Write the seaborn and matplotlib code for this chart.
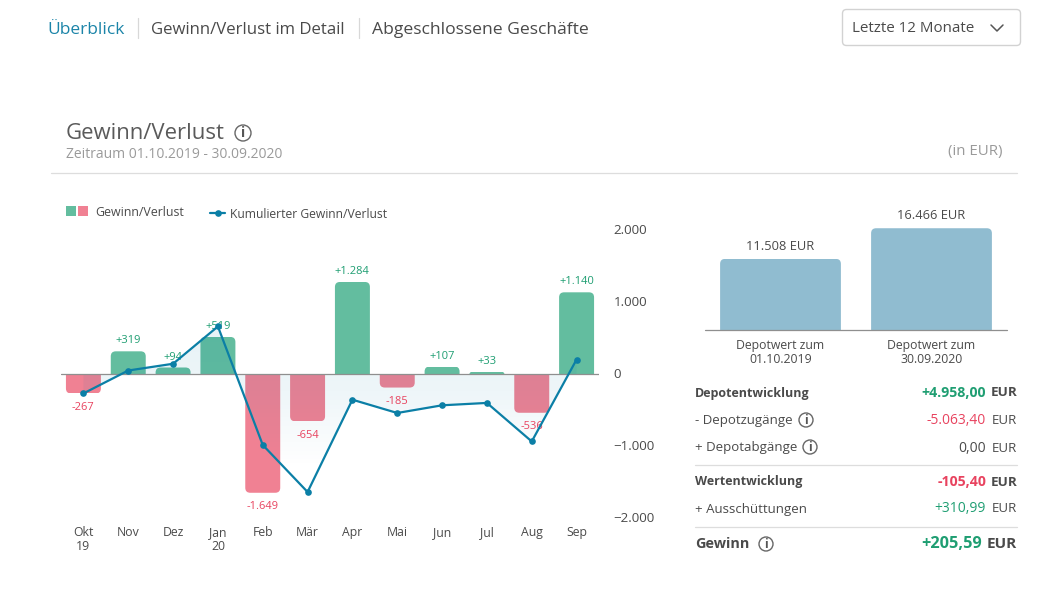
import numpy as np
import pandas as pd
import seaborn as sns
import matplotlib
matplotlib.use("Agg")
import matplotlib.pyplot as plt
from matplotlib.patches import FancyBboxPatch, Rectangle, Circle
from matplotlib.colors import LinearSegmentedColormap
from matplotlib.transforms import ScaledTranslation

months = ["Okt\n19", "Nov", "Dez", "Jan\n20", "Feb", "Mär", "Apr", "Mai", "Jun", "Jul", "Aug", "Sep"]
profit = [-267, 319, 94, 519, -1649, -654, 1284, -185, 107, 33, -536, 1140]
profit_labels = ["-267", "+319", "+94", "+519", "-1.649", "-654", "+1.284", "-185", "+107", "+33", "-536", "+1.140"]
cumulative = [-267, 52, 146, 665, -984, -1638, -354, -539, -432, -399, -935, 205]
y_ticks = [2000, 1000, 0, -1000, -2000]
y_tick_labels = ["2.000", "1.000", "0", "\u22121.000", "\u22122.000"]

depot_dates = ["Depotwert zum\n01.10.2019", "Depotwert zum\n30.09.2020"]
depot_values = [11508, 16466]
depot_labels = ["11.508 EUR", "16.466 EUR"]

GREEN = "#63bd9f"
RED = "#f08193"
BLUE = "#0b7fa6"
DEPOT = "#90bcd0"
TEXT = "#4a4a4a"
GREY = "#9a9a9a"
TXT_GREEN = "#1f9e72"
TXT_RED = "#e8435f"

W, H = 1047, 590

sns.set_style("white")
plt.rcParams["font.family"] = ["Open Sans", "DejaVu Sans"]


def px_axes(fig, left, top, right, bottom):
    return fig.add_axes([left / W, 1 - bottom / H, (right - left) / W, (bottom - top) / H])


fig = plt.figure(figsize=(W / 100, H / 100), dpi=100)

# main chart
ax = px_axes(fig, 61, 230.5, 599, 518)
df = pd.DataFrame({"month": months, "profit": profit})
df["sign"] = np.where(df["profit"] >= 0, "up", "down")
sns.barplot(data=df, x="month", y="profit", hue="sign", dodge=False, legend=False, width=0.78, saturation=1,
            palette={"up": GREEN, "down": RED}, ax=ax, zorder=2)
ax.set_xlim(-0.5, 11.5)
ax.set_ylim(-2000, 2000)

# swap the square bars for ones with rounded ends
px_x = 538 / 12
px_y = 287.5 / 4000
for p in list(ax.patches):
    x, y, w, h = p.get_x(), p.get_y(), p.get_width(), p.get_height()
    if abs(h) < 1:
        continue
    col = p.get_facecolor()
    p.remove()
    lo, hi = min(y, y + h), max(y, y + h)
    ext = 12 / px_y
    lo2 = lo - ext if lo == 0 else lo
    hi2 = hi + ext if hi == 0 else hi
    rad = min(5, abs(h) * px_y) / px_x
    bar = FancyBboxPatch((x, lo2), w, hi2 - lo2, boxstyle=f"round,pad=0,rounding_size={rad}",
                         mutation_aspect=px_x / px_y, fc=col, ec="none", zorder=2)
    ax.add_patch(bar)
    bar.set_clip_path(Rectangle((x - 1, lo), w + 2, hi - lo, transform=ax.transData))

# light gradient between the line and zero
x_pos = np.arange(len(months))
area = ax.fill_between(x_pos, cumulative, 0, color="none", zorder=3)
cmap = LinearSegmentedColormap.from_list("fade", [(0.04, 0.5, 0.65, 0.0), (0.04, 0.5, 0.65, 0.07), (0.04, 0.5, 0.65, 0.10)])
grad = np.linspace(1, 0, 256).reshape(-1, 1)
img = ax.imshow(grad, extent=(-0.5, 11.5, -1300, 800), aspect="auto", cmap=cmap, zorder=3)
img.set_clip_path(area.get_paths()[0], transform=ax.transData)
ax.set_xlim(-0.5, 11.5)
ax.set_ylim(-2000, 2000)

ax.axhline(0, color="#8f8f8f", lw=0.9, zorder=4)
sns.lineplot(x=x_pos, y=cumulative, color=BLUE, lw=1.6, marker="o", markersize=4.8, markeredgewidth=0,
             ax=ax, zorder=5, errorbar=None)

for i, (val, lab) in enumerate(zip(profit, profit_labels)):
    ax.annotate(lab, (i, val), xytext=(0, 3.5 if val > 0 else -6), textcoords="offset points", ha="center",
                va="bottom" if val > 0 else "top", fontsize=8.0,
                color=TXT_GREEN if val > 0 else TXT_RED, zorder=4)

ax.set_xlabel("")
ax.set_ylabel("")
ax.yaxis.tick_right()
ax.set_yticks(y_ticks)
ax.set_yticklabels(y_tick_labels, ha="left", color=TEXT, fontsize=9.6)
ax.set_xticks(x_pos)
ax.set_xticklabels(months, color=TEXT, fontsize=8.8, linespacing=1.05)
ax.tick_params(axis="x", length=0, pad=6)
ax.tick_params(axis="y", length=0, pad=10.5)
for lab in ax.get_yticklabels():
    lab.set_transform(lab.get_transform() + ScaledTranslation(0, 1.5 / 100, fig.dpi_scale_trans))
ax.patch.set_alpha(0)
sns.despine(ax=ax, left=True, bottom=True, right=True, top=True)

# depot value bars
ax2 = px_axes(fig, 705, 210, 1007, 330)
sns.barplot(x=depot_dates, y=depot_values, color=DEPOT, saturation=1, width=0.8, ax=ax2)
ax2.set_xlim(-0.5, 1.5)
ax2.set_ylim(0, 120 / 0.00618)
px2_x = 151
px2_y = 0.00618
for p in list(ax2.patches):
    x, w, h = p.get_x(), p.get_width(), p.get_height()
    p.remove()
    ext = 12 / px2_y
    bar = FancyBboxPatch((x, -ext), w, h + ext, boxstyle=f"round,pad=0,rounding_size={5 / px2_x}",
                         mutation_aspect=px2_x / px2_y, fc=DEPOT, ec="none")
    ax2.add_patch(bar)
    bar.set_clip_path(Rectangle((x - 1, 0), w + 2, h, transform=ax2.transData))
for i, (val, lab) in enumerate(zip(depot_values, depot_labels)):
    ax2.annotate(lab, (i, val), xytext=(0, 4.5), textcoords="offset points", ha="center", va="bottom",
                 fontsize=9.3, color=TEXT)
ax2.axhline(0, color="#8f8f8f", lw=0.9, clip_on=False)
ax2.set_ylabel("")
ax2.set_yticks([])
ax2.tick_params(axis="x", length=0, pad=6.5, labelsize=8.8, labelcolor=TEXT)
for lab in ax2.get_xticklabels():
    lab.set_linespacing(1.05)
ax2.patch.set_alpha(0)
sns.despine(ax=ax2, left=True, bottom=True)

# page furniture, placed in pixels
bg = fig.add_axes([0, 0, 1, 1], zorder=10)
bg.set_xlim(0, W)
bg.set_ylim(H, 0)
bg.axis("off")


def txt(x, y, s, size, color=TEXT, ha="left", weight="normal"):
    bg.text(x, y, s, fontsize=size, color=color, ha=ha, va="center", fontweight=weight)


def info(x, y, r=7.0):
    bg.add_patch(Circle((x, y), r, fc="white", ec="#666666", lw=1))
    bg.text(x, y + 0.3, "i", fontsize=r * 1.25, color="#555555", ha="center", va="center", fontweight="bold")


txt(47, 30, "Überblick", 12.5, "#1b84a8")
txt(151, 30, "Gewinn/Verlust im Detail", 12.1)
txt(372, 30, "Abgeschlossene Geschäfte", 12.6)
for vx in (137.5, 358.5):
    bg.plot([vx, vx], [18, 38], color="#d8d8d8", lw=0.9)

bg.add_patch(FancyBboxPatch((842.5, 9.5), 178, 36, boxstyle="round,pad=0,rounding_size=4",
                            fc="white", ec="#d2d2d2", lw=1))
txt(852, 29, "Letzte 12 Monate", 10.9)
bg.plot([991, 997, 1003], [25, 31, 25], color="#555555", lw=1.1)

txt(66, 133.5, "Gewinn/Verlust", 15.9, "#5a5a5a")
info(243, 133, 8)
txt(66, 155, "Zeitraum 01.10.2019 - 30.09.2020", 10, GREY)
txt(1002, 151.5, "(in EUR)", 10.8, GREY, ha="right")
bg.plot([51, 1017], [172.5, 172.5], color="#dddddd", lw=0.9)

bg.add_patch(Rectangle((66, 206), 10, 10, fc=GREEN, ec="none"))
bg.add_patch(Rectangle((78, 206), 10, 10, fc=RED, ec="none"))
txt(95, 212, "Gewinn/Verlust", 8.9)
bg.plot([210, 225], [212.5, 212.5], color=BLUE, lw=1.6)
bg.plot([217.5], [212.5], "o", color=BLUE, ms=4.8, mew=0)
txt(230, 214, "Kumulierter Gewinn/Verlust", 8.7)


def row(y, label, amount, color, size=9.5, num_size=10.0, bold=False, eur_x=986):
    wt = "bold" if bold else "normal"
    txt(695, y, label, size, weight=wt)
    txt(eur_x, y, amount, num_size, color, ha="right", weight=wt)
    txt(1017, y, "EUR", num_size * 0.95, ha="right", weight=wt)


row(393, "Depotentwicklung", "+4.958,00", TXT_GREEN, size=9.0, num_size=10.2, bold=True)
row(420.5, "- Depotzugänge", "-5.063,40", TXT_RED)
info(806, 420)
row(448, "+ Depotabgänge", "0,00", TEXT)
info(810, 447)
bg.plot([695, 1017], [464.5, 464.5], color="#dddddd", lw=0.9)
row(482, "Wertentwicklung", "-105,40", TXT_RED, size=9.0, num_size=10.2, bold=True)
row(509, "+ Ausschüttungen", "+310,99", TXT_GREEN)
bg.plot([695, 1017], [526.5, 526.5], color="#dddddd", lw=0.9)
row(544.5, "Gewinn", "+205,59", TXT_GREEN, size=10.4, num_size=11.7, bold=True, eur_x=982)
info(766, 544)

fig.savefig("out.png", dpi=100, facecolor="white")
